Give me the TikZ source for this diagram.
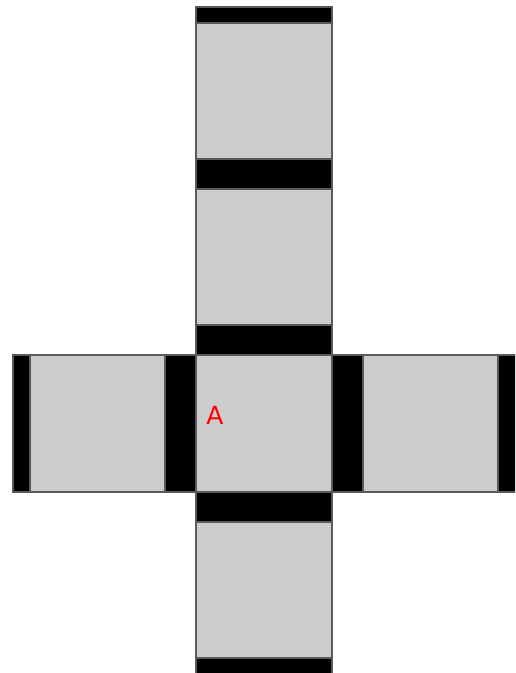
\documentclass[tikz,border=0pt]{standalone}
\usepackage{fontspec}
\setsansfont{DejaVu Sans}
\usetikzlibrary{positioning}
\definecolor{facegray}{HTML}{CCCCCC}
\definecolor{edgegray}{HTML}{5A5A5A}
\tikzset{
    face/.style={fill=facegray, draw=edgegray, line width=1.1pt},
    flap/.style={fill=black, draw=edgegray, line width=1.1pt}
}

\begin{document}
\begin{tikzpicture}[x=1pt, y=-1pt]
    % Page frame
    \clip (0,0) rectangle (515,673);
    % Column of faces
    \foreach \t/\b in {23/159, 189/325, 355/492, 522/658}
    {
        \draw[face] (196,\t) rectangle (332,\b);
    }
    % Side faces
    \draw[face] (30,355) rectangle (165,492);
    \draw[face] (363,355) rectangle (498,492);
    % Flaps along the column
    \foreach \t/\b in {7/23, 159/189, 325/355, 492/522, 658/676}
    {
        \draw[flap] (196,\t) rectangle (332,\b);
    }
    % Flaps along the row
    \foreach \l/\r in {13/30, 165/196, 332/363, 498/518}
    {
        \draw[flap] (\l,355) rectangle (\r,492);
    }
    % Label
    \node[text=red, font=\sffamily\fontsize{25}{29}\selectfont] (lblA) at (215,415) {A};
\end{tikzpicture}
\end{document}
